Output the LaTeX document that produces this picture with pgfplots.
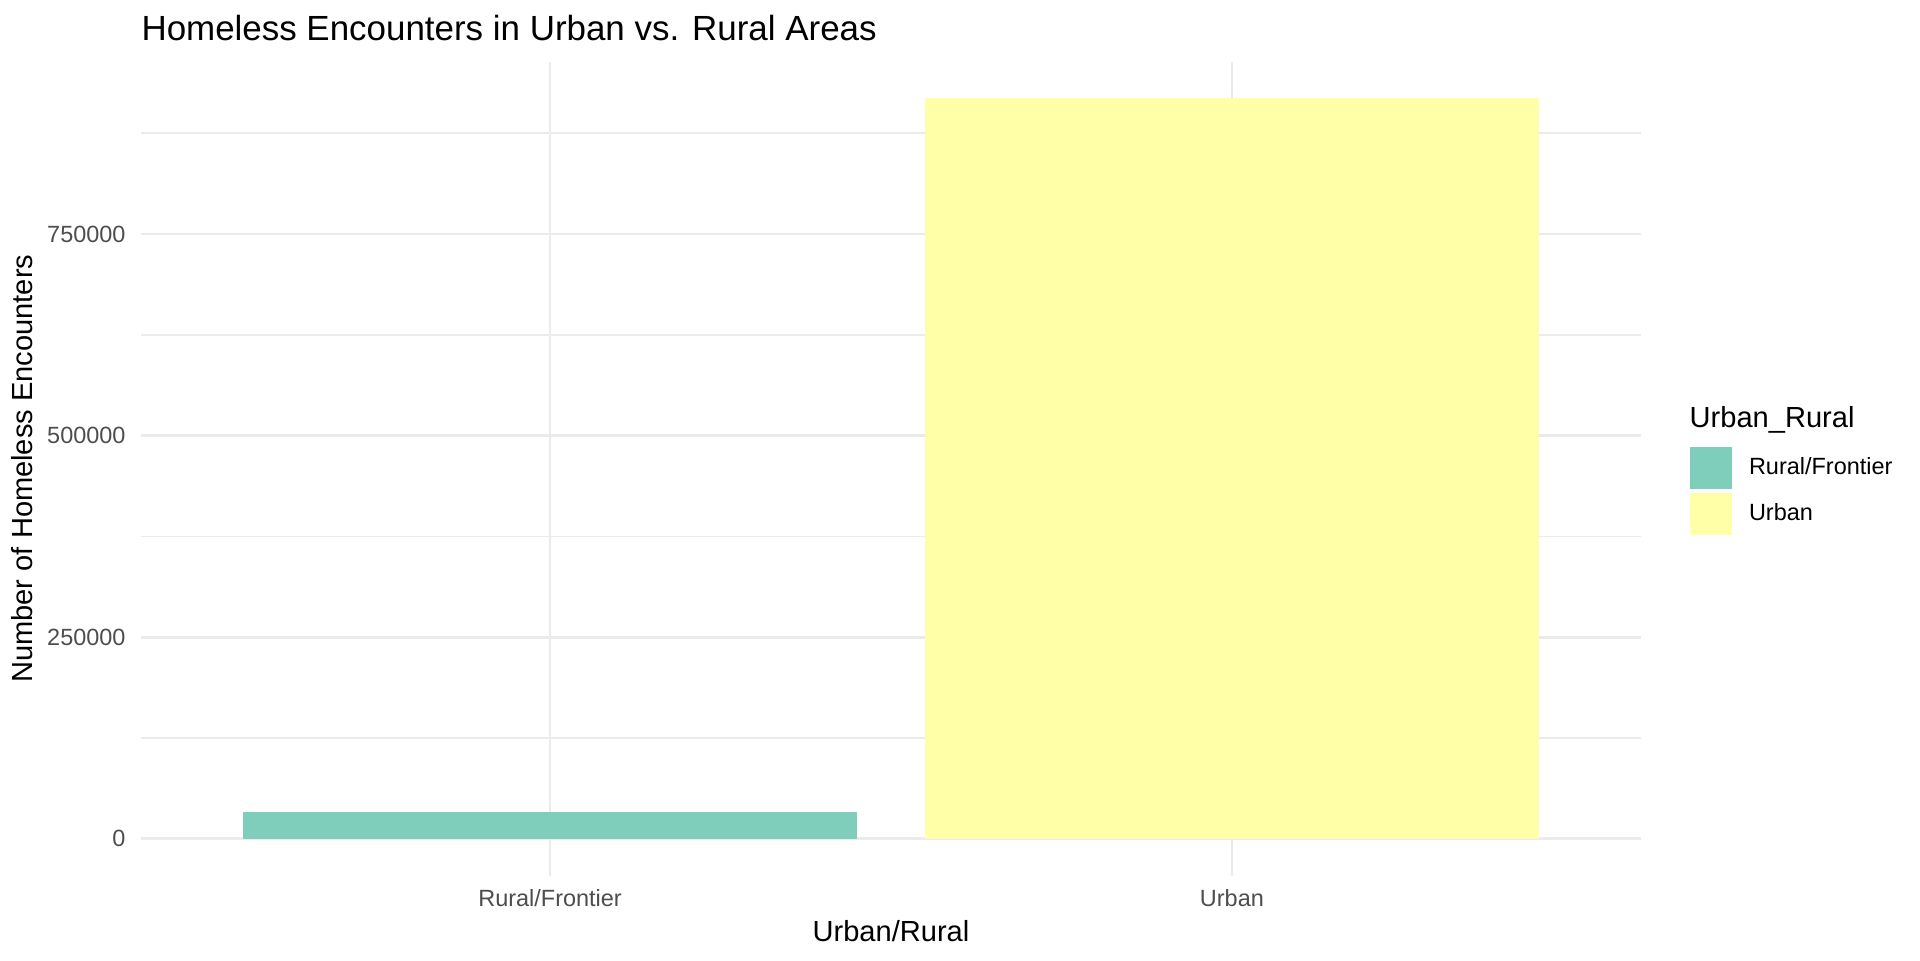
\documentclass[border=0pt]{standalone}
\usepackage{fontspec}
\setmainfont{Liberation Sans}
\usepackage{pgfplots}
\pgfplotsset{compat=1.18}

\definecolor{rural}{RGB}{127,205,187}
\definecolor{urban}{RGB}{255,255,168}
\definecolor{gridcol}{HTML}{EBEBEB}
\definecolor{tickcol}{HTML}{4D4D4D}

\begin{document}
\begin{tikzpicture}
\useasboundingbox (0,0) rectangle (720pt,360pt);
\begin{axis}[
    at={(52.875pt,31.575pt)}, anchor=south west,
    scale only axis,
    width=562.5pt, height=305.36pt,
    clip=false,
    xmin=0.4, xmax=2.6,
    ymin=-45900, ymax=963900,
    axis line style={draw=none},
    major tick length=0pt, minor tick length=0pt,
    xtick={1,2},
    xticklabels={Rural/Frontier,Urban},
    ytick={0,250000,500000,750000},
    minor ytick={125000,375000,625000,875000},
    xmajorgrids, ymajorgrids, yminorgrids,
    major grid style={line width=1pt, color=gridcol},
    minor grid style={line width=0.55pt, color=gridcol},
    scaled y ticks=false,
    /pgf/number format/fixed,
    /pgf/number format/1000 sep={},
    /pgf/number format/assume math mode=true,
    yticklabel style={anchor=east, inner sep=0pt, xshift=-5.6pt,
        font=\fontsize{8.8}{10}\selectfont, text=tickcol},
    xticklabel style={anchor=base, inner sep=0pt, yshift=-11.6pt,
        font=\fontsize{8.8}{10}\selectfont, text=tickcol},
    every axis title shift=0pt,
    title={Homeless Encounters in Urban vs. Rural Areas},
    title style={at={(axis description cs:0,1.0264)}, anchor=base west,
        inner sep=0pt, font=\fontsize{13.1}{16}\selectfont},
    xlabel={Urban/Rural},
    xlabel style={at={(axis description cs:0.5,-0.0801)}, anchor=base,
        inner sep=0pt, font=\fontsize{10.9}{12}\selectfont},
    ylabel={Number of Homeless Encounters},
    ylabel style={at={(axis description cs:-0.0791,0.5)}, anchor=center,
        inner sep=0pt, font=\fontsize{10.9}{12}\selectfont},
    legend style={at={(axis description cs:1.0321,0.5278)}, anchor=north west,
        draw=none, fill=none, inner sep=0pt, row sep=1.6pt, column sep=6.5pt,
        nodes={inner sep=0pt, font=\fontsize{8.8}{10}\selectfont}},
    legend cell align=left,
    legend image code/.code={\fill[#1] (0pt,-7.875pt) rectangle (15.75pt,7.875pt);},
]
\addplot[ybar, bar width=0.9, bar shift=0pt, fill=rural, draw=none]
    coordinates {(1,32800)};
\addlegendentry{Rural/Frontier}
\addplot[ybar, bar width=0.9, bar shift=0pt, fill=urban, draw=none]
    coordinates {(2,918500)};
\addlegendentry{Urban}
\node[anchor=base west, inner sep=0pt, font=\fontsize{10.9}{12}\selectfont]
    at (axis description cs:1.0321,0.5508) {Urban\_Rural};
\end{axis}
\end{tikzpicture}
\end{document}
